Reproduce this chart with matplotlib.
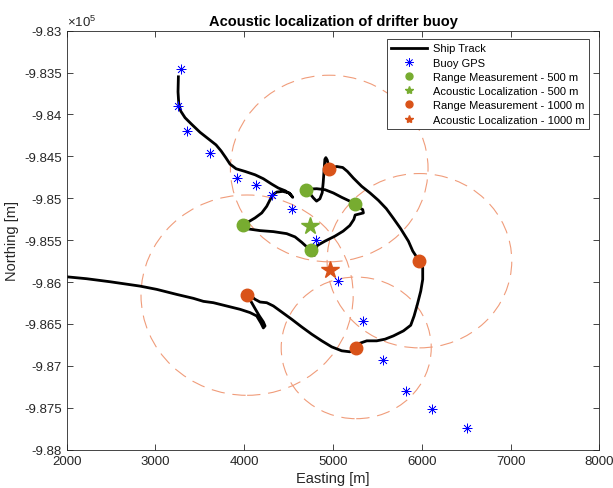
import matplotlib
matplotlib.use("Agg")
import matplotlib.pyplot as plt
from matplotlib.lines import Line2D
from matplotlib.patches import Circle
from matplotlib.ticker import FuncFormatter

plt.rcParams["font.family"] = ["Liberation Sans", "DejaVu Sans"]
plt.rcParams["mathtext.fontset"] = "custom"
plt.rcParams["mathtext.rm"] = "Liberation Sans"

# ship track (easting, northing) [m]
track_e = [3258, 3254, 3262, 3284, 3333, 3408, 3502, 3596, 3682, 3739, 3791, 3840,
           3908, 4009, 4122, 4215, 4309, 4384, 4460, 4516, 4546, 4508, 4433, 4366,
           4321, 4291, 4253, 4197, 4122, 4046, 3983, 4046, 4178, 4328, 4478, 4572,
           4647, 4704, 4749, 4792, 4805, 4822, 4908, 5021, 5114, 5189, 5234, 5249,
           5286, 5342, 5334, 5286, 5248, 5192, 5098, 5004, 4910, 4816, 4741, 4692,
           4739, 4777, 4814, 4852, 4878, 4889, 4897, 4908, 4919, 4934, 4957, 5042,
           5109, 5162, 5229, 5323, 5417, 5511, 5600, 5680, 5760, 5849, 5898, 5935,
           5973, 6010, 6010, 5988, 5950, 5913, 5875, 5793, 5680, 5586, 5492, 5380,
           5304, 5259, 5192, 5098, 4985, 4873, 4760, 4647, 4535, 4422, 4328, 4253,
           4178, 4122, 4084, 4035, 4073, 4122, 4170, 4215, 4234, 4215, 4189, 4140,
           4065, 3953, 3802, 3652, 3540, 3427, 3239, 3014, 2826, 2488, 2225, 2000,
           1900]
track_n = [-983551, -983730, -983868, -983959, -984039, -984118, -984213, -984292,
           -984363, -984435, -984514, -984593, -984648, -984680, -984720, -984767,
           -984831, -984878, -984910, -984949, -984989, -984937, -984918, -984926,
           -984957, -985017, -985096, -985175, -985234, -985282, -985314, -985366,
           -985386, -985398, -985422, -985461, -985525, -985580, -985612, -985680,
           -985610, -985564, -985512, -985452, -985392, -985325, -985253, -985200,
           -985190, -985175, -985135, -985108, -985076, -985036, -984989, -984937,
           -984898, -984886, -984890, -984898, -984942, -984994, -985034, -985006,
           -984934, -984814, -984695, -984535, -984515, -984543, -984643, -984621,
           -984633, -984680, -984759, -984858, -984937, -985025, -985124, -985240,
           -985360, -985512, -985630, -985690, -985742, -985829, -985968, -986107,
           -986265, -986404, -986515, -986582, -986642, -986681, -986701, -986701,
           -986729, -986780, -986832, -986820, -986773, -986701, -986622, -986535,
           -986444, -986357, -986285, -986246, -986238, -986206, -986174, -986155,
           -986226, -986317, -986404, -986475, -986523, -986547, -986491, -986404,
           -986364, -986325, -986285, -986246, -986230, -986194, -986147, -986087,
           -986048, -985996, -985960, -985937, -985932]

# buoy GPS fixes
gps_e = [3290, 3257, 3358, 3614, 3923, 4131, 4310, 4533, 4803, 5053, 5333, 5563,
         5818, 6114, 6506]
gps_n = [-983460, -983897, -984196, -984460, -984764, -984844, -984966, -985125,
         -985500, -985991, -986463, -986925, -987304, -987514, -987739]

# range measurements, 500 m
r500_e = [3983, 4694, 5246, 4750]
r500_n = [-985314, -984902, -985066, -985612]
loc500 = (4739, -985325)

# range measurements, 1000 m, with measured ranges
r1000_e = [4957, 5973, 5261, 4032]
r1000_n = [-984645, -985745, -986785, -986156]
r1000_range = [1113, 1040, 845, 1195]
loc1000 = (4969, -985860)

green = "#77AC30"
orange = "#D95319"
ring = "#F09C7A"
axc = "#262626"

fig = plt.figure(figsize=(6.13, 4.89), dpi=100)
ax = fig.add_axes([0.1088, 0.0783, 0.869, 0.857])

for e, n, r in zip(r1000_e, r1000_n, r1000_range):
    ax.add_patch(Circle((e, n), r, fill=False, edgecolor=ring, lw=0.8,
                        linestyle=(0, (12, 7)), zorder=1))

ax.plot(track_e, track_n, color="black", lw=2, zorder=2)
ax.plot(gps_e, gps_n, ls="none", marker=(8, 2, 0), ms=7, mec="blue", mew=0.5, zorder=3)
ax.plot(r500_e, r500_n, ls="none", marker="o", ms=9, color=green, zorder=4)
ax.plot(*loc500, marker="*", ms=13, color=green, zorder=4)
ax.plot(r1000_e, r1000_n, ls="none", marker="o", ms=9, color=orange, zorder=4)
ax.plot(*loc1000, marker="*", ms=13, color=orange, zorder=4)

ax.set_xlim(2000, 8000)
ax.set_ylim(-988000, -983000)
ax.set_xticks(range(2000, 8001, 1000))
ax.set_yticks(range(-988000, -982999, 500))
ax.yaxis.set_major_formatter(FuncFormatter(lambda v, p: f"{v / 1e5:g}"))
ax.tick_params(direction="in", top=True, right=True, length=4, width=0.6,
               colors=axc, labelsize=9.5, labelcolor=axc)
for s in ax.spines.values():
    s.set_color(axc)
    s.set_linewidth(0.6)

ax.text(0, 1.005, r"$\mathregular{\times10^{5}}$", transform=ax.transAxes,
        ha="left", va="bottom", fontsize=9.5, color=axc)
ax.set_title("Acoustic localization of drifter buoy", fontsize=10.5,
             fontweight="bold", pad=4)
ax.set_xlabel("Easting [m]", fontsize=10.5, color=axc, labelpad=3)
ax.set_ylabel("Northing [m]", fontsize=10.5, color=axc, labelpad=4)

handles = [
    Line2D([], [], color="black", lw=2),
    Line2D([], [], ls="none", marker=(8, 2, 0), ms=6, mec="blue", mew=0.5),
    Line2D([], [], ls="none", marker="o", ms=5, color=green),
    Line2D([], [], ls="none", marker="*", ms=6, color=green),
    Line2D([], [], ls="none", marker="o", ms=5, color=orange),
    Line2D([], [], ls="none", marker="*", ms=6, color=orange),
]
labels = ["Ship Track", "Buoy GPS", "Range Measurement - 500 m",
          "Acoustic Localization - 500 m", "Range Measurement - 1000 m",
          "Acoustic Localization - 1000 m"]
leg = ax.legend(handles, labels, loc="upper right", bbox_to_anchor=(0.981, 0.98),
                borderaxespad=0, fontsize=8.0, handlelength=3.2, handletextpad=0.6,
                labelspacing=0.38, fancybox=False, framealpha=1, borderpad=0.4)
leg.get_frame().set_edgecolor(axc)
leg.get_frame().set_linewidth(0.6)

fig.savefig("out.png", dpi=100)
